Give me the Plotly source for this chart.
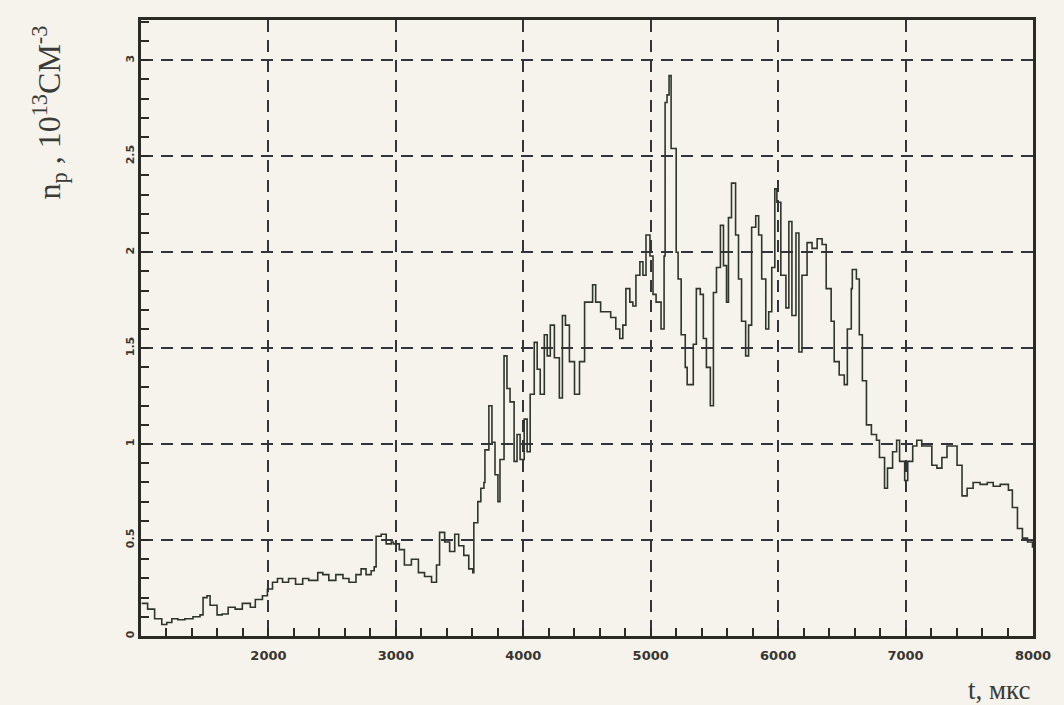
import plotly.graph_objects as go

# Time, microseconds
t_us = [
    1005, 1052, 1107, 1163, 1202, 1242, 1289, 1344, 1408, 1463, 1487, 1518, 1542,
    1597, 1637, 1684, 1739, 1795, 1858, 1897, 1953, 1992, 2032, 2071, 2111, 2158,
    2213, 2269, 2316, 2387, 2427, 2474, 2529, 2585, 2632, 2687, 2727, 2766, 2806,
    2830, 2845, 2885, 2924, 2964,
    2980, 3027, 3067, 3122, 3177, 3225, 3280, 3319, 3343, 3383, 3422, 3462, 3493,
    3533, 3572, 3604, 3612, 3643, 3667, 3691, 3699, 3730, 3754, 3778, 3801, 3817,
    3849, 3872, 3896, 3928, 3951, 3975, 4007, 4030, 4054, 4086, 4109, 4133,
    4165, 4188, 4212, 4244, 4283, 4307, 4331, 4362, 4402, 4441, 4481, 4520, 4544,
    4568, 4607, 4647, 4686, 4726, 4757, 4781, 4805, 4836, 4860, 4884, 4915, 4939,
    4963, 4994, 5018, 5042, 5081, 5105, 5113, 5128, 5144, 5160, 5184, 5200, 5215,
    5239, 5271, 5286, 5334, 5358, 5389, 5413, 5437, 5468, 5492, 5516, 5547, 5571,
    5595, 5610, 5634, 5666, 5689, 5713, 5745, 5768, 5792, 5824, 5847, 5871, 5903,
    5926, 5950, 5974, 5990, 6021, 6061, 6084, 6108, 6140, 6163, 6187, 6227, 6266,
    6306,
    6345, 6377, 6416, 6440, 6479, 6519, 6543, 6574, 6582, 6614, 6637, 6661, 6693,
    6732, 6772, 6795, 6835, 6858, 6898, 6930, 6953, 6993, 7017, 7056, 7088, 7127,
    7167, 7206, 7246, 7285, 7325, 7364, 7404, 7443, 7483, 7530, 7585, 7641, 7688,
    7743, 7783, 7807, 7838, 7878, 7917, 7957, 7996,
]

# Proton density, 10^13 cm^-3
n_p = [
    0.17, 0.14, 0.09, 0.06, 0.07, 0.09, 0.085, 0.09, 0.10, 0.11, 0.20, 0.21, 0.16,
    0.11, 0.115, 0.15, 0.14, 0.17, 0.15, 0.19, 0.21, 0.245, 0.28, 0.30, 0.28, 0.30,
    0.27, 0.30, 0.29, 0.33, 0.32, 0.29, 0.32, 0.30, 0.28, 0.32, 0.35, 0.32, 0.34,
    0.36, 0.52, 0.53, 0.48, 0.49,
    0.48, 0.45, 0.37, 0.40, 0.33, 0.31, 0.28, 0.37, 0.54, 0.49, 0.44, 0.53, 0.47,
    0.42, 0.35, 0.33, 0.59, 0.70, 0.77, 0.80, 0.97, 1.20, 1.01, 0.84, 0.70, 0.92,
    1.46, 1.29, 1.22, 0.91, 1.05, 0.92, 1.13, 0.96, 1.26, 1.53, 1.39, 1.26,
    1.57, 1.46, 1.62, 1.45, 1.24, 1.67, 1.62, 1.43, 1.26, 1.43, 1.74, 1.74, 1.83,
    1.74, 1.69, 1.69, 1.66, 1.60, 1.55, 1.62, 1.81, 1.74, 1.72, 1.88, 1.95, 1.88,
    2.09, 1.98, 1.78, 1.74, 1.60, 1.98, 2.78, 2.82, 2.92, 2.54, 2.54, 2.00, 1.86,
    1.57, 1.40, 1.31, 1.52, 1.81, 1.78, 1.55, 1.40, 1.20, 1.79, 1.92, 2.14, 1.93,
    1.74, 2.18, 2.36, 2.09, 1.86, 1.64, 1.46, 1.62, 2.13, 2.19, 2.09, 1.86, 1.60,
    1.69, 1.92, 2.33, 2.26, 1.88, 1.71, 2.16, 1.67, 2.10, 1.48, 1.88, 2.05, 2.02,
    2.07,
    2.04, 1.81, 1.64, 1.43, 1.36, 1.31, 1.60, 1.81, 1.91, 1.86, 1.57, 1.33, 1.10,
    1.05, 1.02, 0.93, 0.77, 0.875, 0.96, 1.02, 0.91, 0.81, 0.91, 0.99, 1.02, 0.99,
    0.99, 0.89, 0.875, 0.93, 0.99, 0.99, 0.89, 0.73, 0.77, 0.80, 0.79, 0.80, 0.78,
    0.79, 0.79, 0.76, 0.67, 0.56, 0.51, 0.49, 0.46,
]

x_ticks = [2000, 3000, 4000, 5000, 6000, 7000, 8000]
x_tick_text = ["2000", "3000", "4000", "5000", "6000", "7000", "8000"]
y_ticks = [0, 0.5, 1, 1.5, 2, 2.5, 3]
y_tick_text = ["0", "0.5", "1", "1.5", "2", "2.5", "3"]

ink = "#2b2b26"
paper = "#f5f3ec"

fig = go.Figure()
fig.add_trace(go.Scatter(
    x=t_us, y=n_p, mode="lines", line_shape="hv",
    line=dict(color="#30352a", width=1.6),
    hoverinfo="x+y", showlegend=False,
))

axis_common = dict(
    showline=True, linecolor=ink, linewidth=2.5, mirror=True,
    showgrid=True, gridcolor="#34343e", gridwidth=2.4, griddash="12px,8px",
    zeroline=False, ticks="inside", ticklen=8, tickwidth=2, tickcolor=ink,
)

fig.update_xaxes(
    range=[1000, 8000], tickmode="array", tickvals=x_ticks, ticktext=x_tick_text,
    tickfont=dict(family="DejaVu Sans", size=13, color="#3a3530", weight="bold"),
    minor=dict(dtick=200, tick0=1000, ticks="inside", ticklen=8, tickwidth=2,
               tickcolor=ink, showgrid=False),
    ticklabelstandoff=6,
    **axis_common,
)
fig.update_yaxes(
    range=[0, 3.21], tickmode="array", tickvals=y_ticks, ticktext=y_tick_text,
    tickangle=-90,
    tickfont=dict(family="DejaVu Sans", size=11, color="#3a3530", weight="bold"),
    minor=dict(dtick=0.1, tick0=0, ticks="inside", ticklen=8, tickwidth=2,
               tickcolor=ink, showgrid=False),
    **axis_common,
)

fig.add_annotation(
    text="n<sub>p</sub> , 10<sup>13</sup>СМ<sup>-3</sup>",
    xref="paper", yref="paper", x=-0.103, y=0.85, textangle=-90,
    xanchor="center", yanchor="middle",
    showarrow=False, font=dict(family="Liberation Serif", size=32, color="#3a3a36"),
)
fig.add_annotation(
    text="t, мкс",
    xref="paper", yref="paper", x=0.962, y=-0.088,
    xanchor="center", yanchor="middle",
    showarrow=False, font=dict(family="Liberation Serif", size=27, color="#3a3a36"),
)

fig.update_layout(
    width=1064, height=705,
    margin=dict(l=141, r=31, t=20, b=69),
    paper_bgcolor=paper, plot_bgcolor=paper,
)

fig.write_html("out.html")
